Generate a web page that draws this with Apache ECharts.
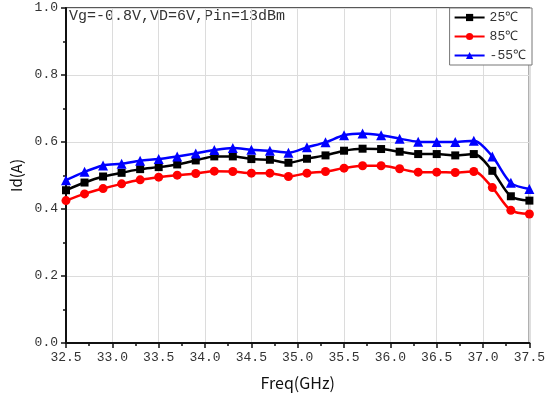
<!DOCTYPE html>
<html>
<head>
<meta charset="utf-8">
<script src="https://cdn.jsdelivr.net/npm/echarts@6/dist/echarts.min.js"></script>
<style>
  html, body { margin: 0; padding: 0; background: #fff; }
  #chart { width: 548px; height: 396px; }
</style>
</head>
<body>
<div id="chart"></div>
<script>
// frequency points (GHz)
const freq = [32.5, 32.7, 32.9, 33.1, 33.3, 33.5, 33.7, 33.9, 34.1, 34.3, 34.5, 34.7, 34.9,
  35.1, 35.3, 35.5, 35.7, 35.9, 36.1, 36.3, 36.5, 36.7, 36.9, 37.1, 37.3, 37.5];
const id25 = [0.456, 0.479, 0.497, 0.508, 0.519, 0.525, 0.533, 0.545, 0.557, 0.557, 0.549, 0.547, 0.538,
  0.550, 0.560, 0.574, 0.580, 0.579, 0.571, 0.564, 0.564, 0.560, 0.564, 0.514, 0.438, 0.425];
const id85 = [0.425, 0.445, 0.461, 0.475, 0.487, 0.495, 0.501, 0.506, 0.513, 0.512, 0.507, 0.507, 0.497,
  0.507, 0.512, 0.522, 0.529, 0.529, 0.520, 0.510, 0.510, 0.509, 0.512, 0.464, 0.396, 0.385];
const idm55 = [0.486, 0.511, 0.530, 0.535, 0.544, 0.549, 0.557, 0.566, 0.576, 0.582, 0.577, 0.574, 0.568,
  0.584, 0.599, 0.620, 0.625, 0.620, 0.610, 0.601, 0.600, 0.600, 0.604, 0.557, 0.478, 0.460];
const seriesNames = ["25℃", "85℃", "-55℃"];
const note = "Vg=-0.8V,VD=6V,Pin=13dBm";

const monoFont = "Liberation Mono";

function pairs(ys) {
  return freq.map((f, i) => [f, ys[i]]);
}

function makeSeries(name, ys, color, symbol, size) {
  return {
    type: "line",
    name: name,
    data: pairs(ys),
    smooth: 0.3,
    symbol: symbol,
    symbolSize: size,
    lineStyle: { color: color, width: 2.5 },
    itemStyle: { color: color },
    z: 3
  };
}

const myChart = echarts.init(document.getElementById("chart"));
myChart.setOption({
  animation: false,
  grid: {
    left: 66,
    right: 16,
    top: 8,
    bottom: 52,
    show: true,
    borderColor: "#222",
    borderWidth: 1.5
  },
  legend: {
    orient: "vertical",
    right: 16,
    top: 8,
    itemWidth: 30,
    itemHeight: 9,
    itemGap: 6,
    padding: [3, 6, 3, 4],
    backgroundColor: "#fff",
    borderColor: "#777",
    borderWidth: 1,
    textStyle: { fontFamily: monoFont, fontSize: 13, color: "#333" },
    data: seriesNames
  },
  graphic: [
    {
      type: "text",
      left: 69,
      top: 9,
      style: { text: note, font: "15px 'Liberation Mono'", fill: "#333" }
    }
  ],
  xAxis: {
    type: "value",
    min: 32.5,
    max: 37.5,
    interval: 0.5,
    name: "Freq(GHz)",
    nameLocation: "middle",
    nameGap: 32,
    nameTextStyle: { fontFamily: "Noto Sans CJK SC", fontSize: 16, color: "#111" },
    axisLine: { show: true, lineStyle: { color: "#111", width: 2 } },
    axisTick: { show: true, inside: false, length: 5, lineStyle: { color: "#111", width: 1.5 } },
    minorTick: { show: true, splitNumber: 2, length: 3, lineStyle: { color: "#111", width: 1.5 } },
    axisLabel: {
      fontFamily: monoFont,
      fontSize: 13,
      color: "#333",
      margin: 8,
      formatter: v => v.toFixed(1)
    },
    splitLine: { show: true, lineStyle: { color: "#dcdcdc", width: 1 } }
  },
  yAxis: {
    type: "value",
    min: 0,
    max: 1,
    interval: 0.2,
    name: "Id(A)",
    nameLocation: "middle",
    nameGap: 40,
    nameTextStyle: { fontFamily: "Noto Sans CJK SC", fontSize: 15, color: "#111" },
    axisLine: { show: true, lineStyle: { color: "#111", width: 2 } },
    axisTick: { show: true, inside: false, length: 5, lineStyle: { color: "#111", width: 1.5 } },
    minorTick: { show: true, splitNumber: 2, length: 3, lineStyle: { color: "#111", width: 1.5 } },
    axisLabel: {
      fontFamily: monoFont,
      fontSize: 13,
      color: "#333",
      margin: 8,
      formatter: v => v.toFixed(1)
    },
    splitLine: { show: true, lineStyle: { color: "#dcdcdc", width: 1 } }
  },
  series: [
    makeSeries(seriesNames[0], id25, "#000000", "rect", 8),
    makeSeries(seriesNames[1], id85, "#ff0000", "circle", 9),
    makeSeries(seriesNames[2], idm55, "#0000ff", "triangle", 10)
  ]
});
</script>
</body>
</html>
